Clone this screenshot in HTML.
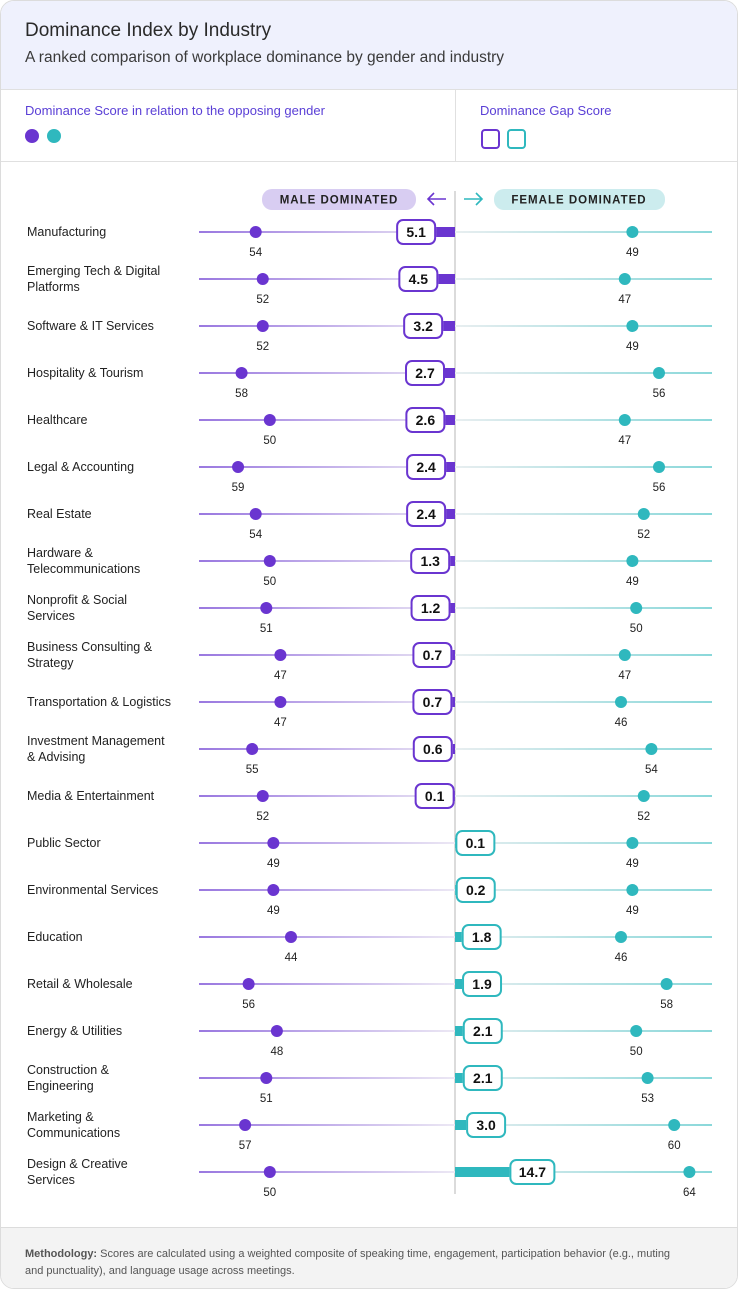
<!DOCTYPE html>
<html><head><meta charset="utf-8">
<style>
body{margin:0;background:#fff;font-family:"Liberation Sans",sans-serif;}
#card{position:absolute;left:0;top:0;width:736px;height:1287px;border:1px solid #dcdcdc;border-radius:14px;overflow:hidden;background:#fff;}
#hdr{position:absolute;left:0;top:0;width:736px;height:88px;background:#eff1fd;border-bottom:1px solid #e0e0e0;}
#title{position:absolute;left:24px;top:19px;font-size:19px;color:#2a2a2a;}
#sub{position:absolute;left:24px;top:48px;font-size:15.5px;color:#3a3a3a;}
.lg{position:absolute;top:102px;font-size:13px;color:#5a3fd6;}
#foot{position:absolute;left:0;top:1226px;width:736px;height:62px;background:#f3f3f3;border-top:1px solid #dcdcdc;font-size:11px;color:#555;}
</style></head><body>
<div id="card">
<div id="hdr">
<div id="title">Dominance Index by Industry</div>
<div id="sub">A ranked comparison of workplace dominance by gender and industry</div>
</div>
<div style="position:absolute;left:454px;top:89px;width:1px;height:71px;background:#e0e0e0"></div>
<div style="position:absolute;left:0;top:160px;width:736px;height:1px;background:#e0e0e0"></div>
<div class="lg" style="left:24px">Dominance Score in relation to the opposing gender</div>
<div style="position:absolute;left:24px;top:128px;width:14px;height:14px;border-radius:50%;background:#6a35d0"></div>
<div style="position:absolute;left:46px;top:128px;width:14px;height:14px;border-radius:50%;background:#2fb8be"></div>
<div class="lg" style="left:479px">Dominance Gap Score</div>
<div style="position:absolute;left:480px;top:128px;width:15px;height:16px;border:2px solid #6a35d0;border-radius:4px"></div>
<div style="position:absolute;left:506px;top:128px;width:15px;height:16px;border:2px solid #2fb8be;border-radius:4px"></div>
<svg id="chart" width="738" height="1060" style="position:absolute;left:-1px;top:160px"></svg>
<div id="foot"><div style="position:absolute;left:24px;top:18px;width:665px;line-height:17px"><b>Methodology:</b> Scores are calculated using a weighted composite of speaking time, engagement, participation behavior (e.g., muting and punctuality), and language usage across meetings.</div></div>
</div>
<script>
const industries=["Manufacturing","Emerging Tech & Digital|Platforms","Software & IT Services","Hospitality & Tourism","Healthcare","Legal & Accounting","Real Estate","Hardware &|Telecommunications","Nonprofit & Social|Services","Business Consulting &|Strategy","Transportation & Logistics","Investment Management|& Advising","Media & Entertainment","Public Sector","Environmental Services","Education","Retail & Wholesale","Energy & Utilities","Construction &|Engineering","Marketing &|Communications","Design & Creative|Services"];
const maleScores=[54,52,52,58,50,59,54,50,51,47,47,55,52,49,49,44,56,48,51,57,50];
const femaleScores=[49,47,49,56,47,56,52,49,50,47,46,54,52,49,49,46,58,50,53,60,64];
const gapValues=[5.1,4.5,3.2,2.7,2.6,2.4,2.4,1.3,1.2,0.7,0.7,0.6,0.1,0.1,0.2,1.8,1.9,2.1,2.1,3.0,14.7];
const gapSide=["m","m","m","m","m","m","m","m","m","m","m","m","m","f","f","f","f","f","f","f","f"];
const NS="http://www.w3.org/2000/svg",svg=document.getElementById('chart');
const CX=455,Y0=71,DY=47;
const xMale=v=>CX-(164+(v-44)*3.53);
const xFem=v=>CX+166+(v-46)*3.8;
const wGap=v=>v*3.7;
const yRow=i=>Y0+i*DY;
function el(t,a,p){const e=document.createElementNS(NS,t);for(const k in a)e.setAttribute(k,a[k]);(p||svg).appendChild(e);return e;}
const defs=el('defs',{});
const g1=el('linearGradient',{id:'gm',x1:'0',x2:'1',y1:'0',y2:'0'},defs);
el('stop',{offset:'0','stop-color':'#9a78e0'},g1);el('stop',{offset:'1','stop-color':'#ece8f4'},g1);
const g2=el('linearGradient',{id:'gf',x1:'0',x2:'1',y1:'0',y2:'0'},defs);
el('stop',{offset:'0','stop-color':'#e8eef0'},g2);el('stop',{offset:'1','stop-color':'#8ad8da'},g2);
let p=el('rect',{x:262,y:28,width:154,height:21,rx:10,fill:'#d8cdf2'});


let t=el('text',{x:339,y:42.5,'text-anchor':'middle','font-size':11.5,'font-weight':'bold','letter-spacing':'1','fill':'#222'});t.textContent='MALE DOMINATED';
p=el('rect',{x:494,y:28,width:171,height:21,rx:10,fill:'#ccecee'});


t=el('text',{x:579,y:42.5,'text-anchor':'middle','font-size':11.5,'font-weight':'bold','letter-spacing':'1','fill':'#222'});t.textContent='FEMALE DOMINATED';
el('path',{d:'M446 38 H428 M434 32 L428 38 L434 44',stroke:'#6a35d0','stroke-width':1.6,fill:'none'});
el('path',{d:'M464 38 H482 M476 32 L482 38 L476 44',stroke:'#2fb8be','stroke-width':1.6,fill:'none'});
el('line',{x1:CX,y1:30,x2:CX,y2:1033,stroke:'#cfcfcf','stroke-width':1.5});
industries.forEach((name,i)=>{
  const y=yRow(i);
  const lines=name.split('|');
  const lab=el('text',{x:27,y:lines.length>1?y-4:y+4,'font-size':12.5,fill:'#222'});
  
  
  lines.forEach((s,k)=>{const ts=el('tspan',{x:27,dy:k?16:0},lab);ts.textContent=s;});
  el('rect',{x:199,y:y-1,width:CX-199,height:2,fill:'url(#gm)'});
  el('rect',{x:CX,y:y-1,width:712-CX,height:2,fill:'url(#gf)'});
  const mx=xMale(maleScores[i]),fx=xFem(femaleScores[i]);
  const md=el('circle',{cx:mx,cy:y,r:6,fill:'#6a35d0'});
  
  
  let tt=el('text',{x:mx,y:y+24,'text-anchor':'middle','font-size':11.5,fill:'#222'});tt.textContent=maleScores[i];
  const fd=el('circle',{cx:fx,cy:y,r:6,fill:'#2fb8be'});
  
  
  tt=el('text',{x:fx,y:y+24,'text-anchor':'middle','font-size':11.5,fill:'#222'});tt.textContent=femaleScores[i];
  const v=gapValues[i],w=wGap(v),male=gapSide[i]==='m';
  const col=male?'#6a35d0':'#2fb8be';
  const label=v.toFixed(1);const bw=label.length>3?46:40;
  const bar=el('rect',{x:male?CX-w:CX,y:y-5,width:w,height:10,fill:col});
  
  
  const bx=male?CX-w-bw:CX+w;
  const box=el('rect',{x:bx+1,y:y-12,width:bw-2,height:24,rx:6,fill:'#fff',stroke:col,'stroke-width':2});
  
  
  tt=el('text',{x:bx+bw/2,y:y+5,'text-anchor':'middle','font-size':14,'font-weight':'bold',fill:'#111'});tt.textContent=label;
});
</script>
</body></html>
